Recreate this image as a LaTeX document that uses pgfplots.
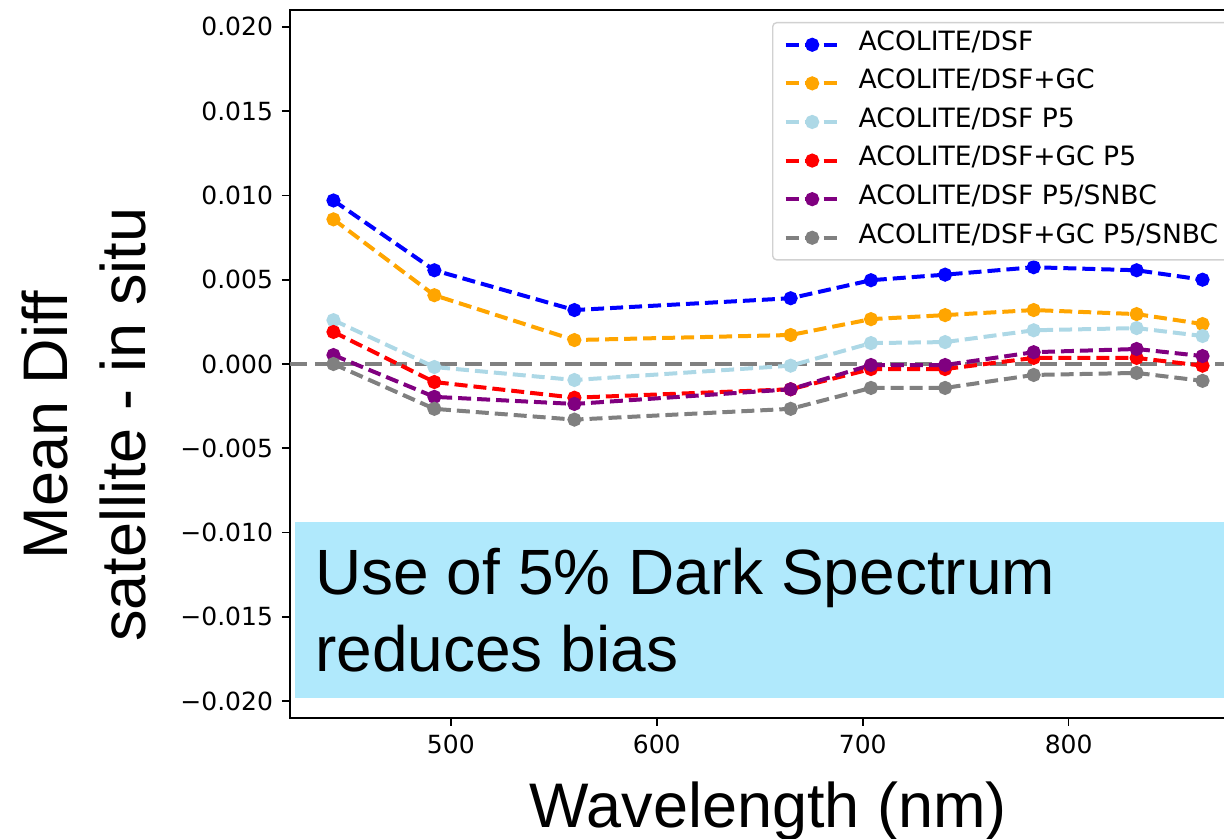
\documentclass[border=0pt]{standalone}
\usepackage{fontspec}
\setmainfont{Liberation Sans}
\newfontfamily\dejavu{DejaVu Sans}
\usepackage{pgfplots}
\pgfplotsset{compat=1.18}
\definecolor{cblue}{RGB}{0,0,255}
\definecolor{corange}{RGB}{255,165,0}
\definecolor{clblue}{RGB}{173,216,230}
\definecolor{cred}{RGB}{255,0,0}
\definecolor{cpurple}{RGB}{128,0,128}
\definecolor{cgray}{RGB}{128,128,128}
\definecolor{cbox}{RGB}{176,233,252}
\begin{document}
\begin{tikzpicture}
\begin{axis}[
  name=ax,
  scale only axis,
  width=478pt, height=354pt,
  xmin=421.9, xmax=886.1,
  ymin=-0.021, ymax=0.021,
  axis line style={line width=1pt},
  tick style={line width=0.8pt, black},
  major tick length=4pt,
  tick align=outside,
  xtick pos=bottom, ytick pos=left,
  xtick={500,600,700,800},
  ytick={-0.02,-0.015,-0.01,-0.005,0,0.005,0.01,0.015,0.02},
  yticklabels={−0.020,−0.015,−0.010,−0.005,0.000,0.005,0.010,0.015,0.020},
  scaled y ticks=false,
  /pgf/number format/assume math mode=true,
  ticklabel style={font=\dejavu\fontsize{12.5}{15}\selectfont},
  xticklabel style={yshift=-1pt},
  yticklabel style={xshift=-1pt},
  xlabel={Wavelength (nm)},
  xlabel style={at={(axis description cs:0.5,0)}, anchor=base, yshift=-54.5pt, font=\fontsize{31.5}{38}\selectfont},
  ylabel={Mean Diff\\satellite - in situ},
  ylabel style={at={(axis description cs:-0.215,0.414)}, anchor=center, rotate=0, align=center, font=\fontsize{31.5}{39}\selectfont},
  every axis plot/.append style={line width=2pt, dash pattern=on 6.5pt off 3pt, mark=*, mark size=2.5pt, mark options={solid}},
  legend style={at={(axis description cs:0.5042,0.9831)}, anchor=north west,
    font=\dejavu\fontsize{13.3}{16}\selectfont,
    draw=black!18, line width=0.7pt, rounded corners=2pt, fill=white,
    inner xsep=5.5pt, inner ysep=1.4pt,
    nodes={inner xsep=0pt, inner ysep=0pt, text height=12.3pt, text depth=7pt},
    /tikz/every odd column/.append style={column sep=9pt}},
  legend cell align=left,
  legend image code/.code={\draw[mark repeat=2,mark phase=2,#1] plot coordinates {(0pt,0pt)(13.25pt,0pt)(26.5pt,0pt)};},
]
\fill[cbox] (axis cs:424.1,-0.0094) rectangle (axis cs:890,-0.0198);
\addplot[forget plot, cgray, mark=none, line width=2pt, dash pattern=on 8.5pt off 4pt] coordinates {(421.9,0) (886.1,0)};
\addplot[cblue] coordinates {(443,0.0097)(492,0.00556)(560,0.0032)(665,0.0039)(704,0.00497)(740,0.0053)(783,0.00574)(833,0.00556)(865,0.0050)};
\addlegendentry{ACOLITE/DSF}
\addplot[corange] coordinates {(443,0.00858)(492,0.00408)(560,0.00142)(665,0.00172)(704,0.00266)(740,0.0029)(783,0.0032)(833,0.00296)(865,0.00237)};
\addlegendentry{ACOLITE/DSF+GC}
\addplot[clblue] coordinates {(443,0.0026)(492,-0.00018)(560,-0.00095)(665,-0.0001)(704,0.00124)(740,0.0013)(783,0.0020)(833,0.00213)(865,0.00166)};
\addlegendentry{ACOLITE/DSF P5}
\addplot[cred] coordinates {(443,0.0019)(492,-0.00107)(560,-0.0020)(665,-0.0015)(704,-0.0003)(740,-0.0003)(783,0.00036)(833,0.00036)(865,-0.0001)};
\addlegendentry{ACOLITE/DSF+GC P5}
\addplot[cpurple] coordinates {(443,0.00053)(492,-0.00195)(560,-0.00237)(665,-0.0015)(704,-0.00006)(740,-0.00006)(783,0.0007)(833,0.00089)(865,0.00047)};
\addlegendentry{ACOLITE/DSF P5/SNBC}
\addplot[cgray] coordinates {(443,0.0)(492,-0.00266)(560,-0.0033)(665,-0.00266)(704,-0.00142)(740,-0.00142)(783,-0.00065)(833,-0.00053)(865,-0.0010)};
\addlegendentry{ACOLITE/DSF+GC P5/SNBC}
\node[anchor=base west, align=left, inner sep=0pt, font=\fontsize{32}{38.5}\selectfont] at (axis cs:434.0,-0.01827) {Use of 5\% Dark Spectrum\\reduces bias};
\end{axis}
\pgfresetboundingbox
\path[use as bounding box] ([shift={(-145pt,-60.5pt)}]ax.south west) rectangle ([shift={(467pt,359pt)}]ax.south west);
\end{tikzpicture}
\end{document}
